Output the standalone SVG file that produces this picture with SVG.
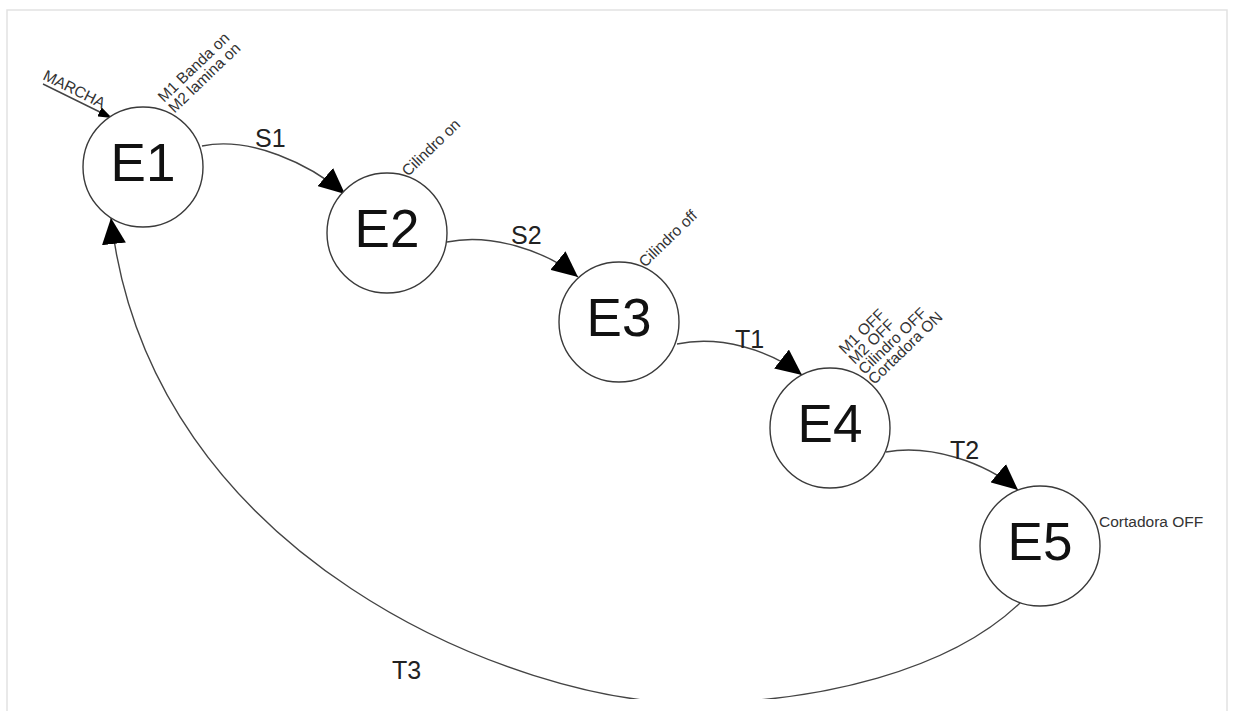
<svg xmlns="http://www.w3.org/2000/svg" width="1234" height="711" viewBox="0 0 1234 711">
<style>
.frame{fill:none;stroke:#e2e2e2;stroke-width:1.5}
.state{fill:#fff;stroke:#3a3a3a;stroke-width:1.4}
.sname{font-family:"Liberation Sans",Arial,sans-serif;font-size:53px;fill:#111;text-anchor:middle}
.act{font-family:"Liberation Sans",Arial,sans-serif;font-size:15.5px;fill:#333}
.elab{font-family:"Liberation Sans",Arial,sans-serif;font-size:25px;fill:#222}
.edge{fill:none;stroke:#444;stroke-width:1.4}
</style>
<defs>
<marker id="ah" markerUnits="userSpaceOnUse" viewBox="0 0 26 24" markerWidth="26" markerHeight="24" refX="26" refY="12" orient="auto">
<path d="M0,0 L26,12 L0,24 Z" fill="#000"/>
</marker>
<marker id="ahs" markerUnits="userSpaceOnUse" viewBox="0 0 14 10" markerWidth="14" markerHeight="10" refX="14" refY="5" orient="auto">
<path d="M0,0 L14,5 L0,10 Z" fill="#000"/>
</marker>
<clipPath id="pic"><rect x="7" y="10" width="1220" height="689"/></clipPath>
</defs>
<rect x="0" y="0" width="1234" height="711" fill="#fff"/>
<path class="frame" d="M7,711 L7,10 L1227,10 L1227,711"/>

<g id="connectors" clip-path="url(#pic)">
<g id="edge-marcha">
<path class="edge" d="M43,84 L112,118" marker-end="url(#ahs)"/>
<text class="act" transform="translate(42,79) rotate(26.5)" font-size="15">MARCHA</text>
</g>
<g id="edge-s1">
<path class="edge" d="M202,146 C250,136 310,164 345,194" marker-end="url(#ah)"/>
<text class="elab" x="255" y="147">S1</text>
</g>
<g id="edge-s2">
<path class="edge" d="M447,242 C490,233 545,250 578,277" marker-end="url(#ah)"/>
<text class="elab" x="511" y="244">S2</text>
</g>
<g id="edge-t1">
<path class="edge" d="M677,344 C720,335 770,350 802,375" marker-end="url(#ah)"/>
<text class="elab" x="735" y="348">T1</text>
</g>
<g id="edge-t2">
<path class="edge" d="M886,452 C930,444 985,462 1018,490" marker-end="url(#ah)"/>
<text class="elab" x="950" y="459">T2</text>
</g>
<g id="edge-t3">
<path class="edge" d="M1020,603 C950,670 820,703 690,703 C520,703 150,560 111,218" marker-end="url(#ah)"/>
<text class="elab" x="392" y="679">T3</text>
</g>
</g>

<g id="node-e1">
<circle class="state" cx="143" cy="167" r="60"/>
<text class="sname" x="143" y="181">E1</text>
<text class="act" transform="translate(164,103) rotate(-44)"><tspan x="0" y="0">M1 Banda on</tspan><tspan x="0" y="15">M2 lamina on</tspan></text>
</g>
<g id="node-e2">
<circle class="state" cx="387" cy="233" r="60"/>
<text class="sname" x="387" y="247">E2</text>
<text class="act" transform="translate(408,177) rotate(-44)">Cilindro on</text>
</g>
<g id="node-e3">
<circle class="state" cx="619" cy="322" r="60"/>
<text class="sname" x="619" y="336">E3</text>
<text class="act" transform="translate(645,268) rotate(-44)">Cilindro off</text>
</g>
<g id="node-e4">
<circle class="state" cx="830" cy="428" r="60"/>
<text class="sname" x="830" y="442">E4</text>
<text class="act" transform="translate(845,355) rotate(-44)"><tspan x="0" y="0">M1 OFF</tspan><tspan x="0" y="14">M2 OFF</tspan><tspan x="0" y="28">Cilindro OFF</tspan><tspan x="0" y="42">Cortadora ON</tspan></text>
</g>
<g id="node-e5">
<circle class="state" cx="1040" cy="546" r="60"/>
<text class="sname" x="1040" y="560">E5</text>
<text class="act" x="1099" y="527">Cortadora OFF</text>
</g>
</svg>
